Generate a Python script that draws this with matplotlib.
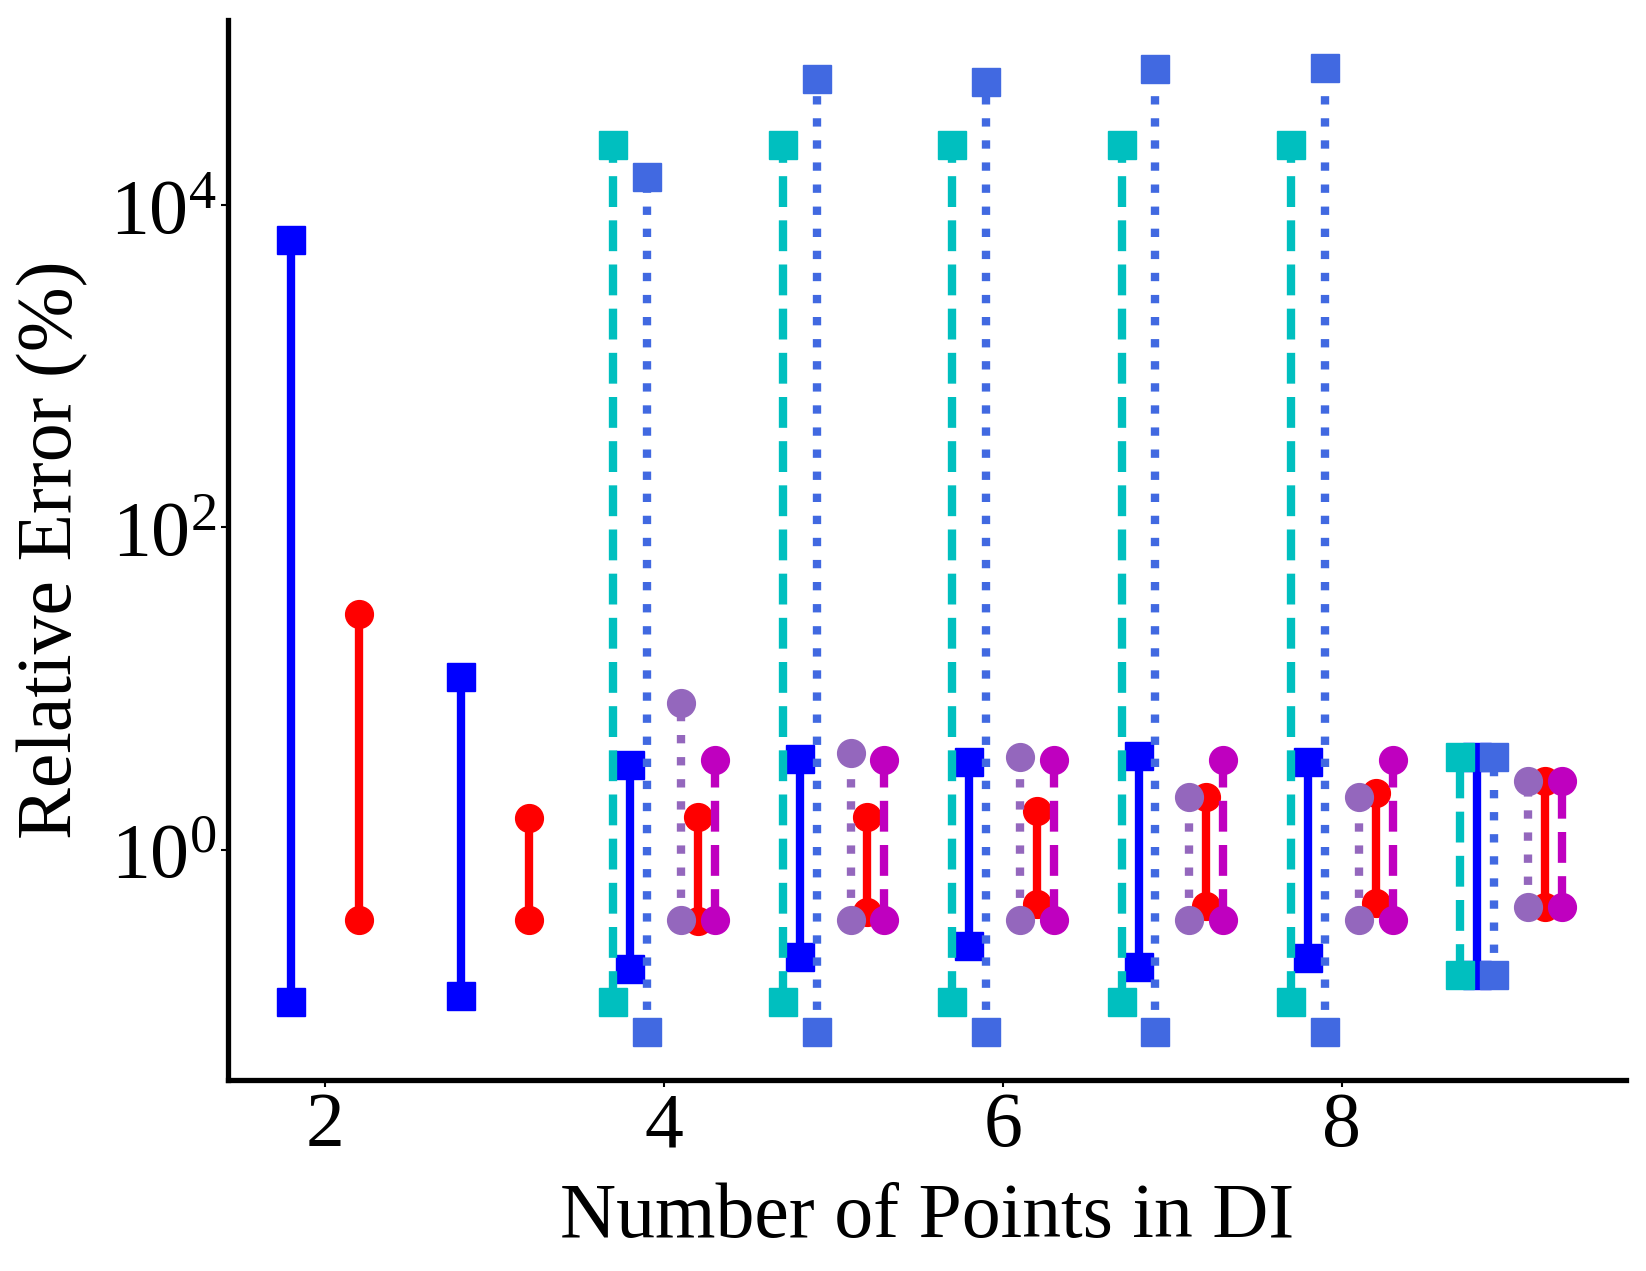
import matplotlib
matplotlib.use("Agg")
import matplotlib.pyplot as plt
from matplotlib.ticker import LogLocator, NullLocator

plt.rcParams['font.family'] = 'serif'
plt.rcParams['font.serif'] = ['Liberation Serif', 'DejaVu Serif']
plt.rcParams['mathtext.fontset'] = 'stix'

# number of points in the DI
n_all = [2, 3, 4, 5, 6, 7, 8, 9]
n_big = [4, 5, 6, 7, 8, 9]

# relative error ranges (%), min / max per method
blue_lo = [0.113, 0.123, 0.181, 0.214, 0.253, 0.187, 0.212, 0.166]
blue_hi = [6050, 11.8, 3.36, 3.66, 3.50, 3.82, 3.49, 3.75]
red_lo = [0.368, 0.368, 0.362, 0.409, 0.461, 0.449, 0.468, 0.438]
red_hi = [29.1, 1.56, 1.59, 1.60, 1.73, 2.12, 2.26, 2.68]

cyan_lo = [0.113, 0.113, 0.113, 0.113, 0.113, 0.166]
cyan_hi = [23500, 23500, 23500, 23500, 23500, 3.75]
royal_lo = [0.074, 0.074, 0.074, 0.074, 0.074, 0.166]
royal_hi = [14900, 60500, 58000, 69700, 70800, 3.75]
purple_lo = [0.367, 0.367, 0.367, 0.367, 0.367, 0.438]
purple_hi = [8.16, 3.95, 3.77, 2.12, 2.13, 2.68]
mag_lo = [0.367, 0.367, 0.367, 0.367, 0.367, 0.438]
mag_hi = [3.61, 3.61, 3.61, 3.61, 3.61, 2.68]

# (n values, lows, highs, x offset, color, linestyle, marker), in drawing order
series = [
    (n_all, blue_lo, blue_hi, -0.2, 'b', '-', 's'),
    (n_all, red_lo, red_hi, 0.2, 'r', '-', 'o'),
    (n_big, cyan_lo, cyan_hi, -0.3, 'c', '--', 's'),
    (n_big, royal_lo, royal_hi, -0.1, 'royalblue', ':', 's'),
    (n_big, purple_lo, purple_hi, 0.1, 'tab:purple', ':', 'o'),
    (n_big, mag_lo, mag_hi, 0.3, 'm', '--', 'o'),
]

fig = plt.figure(figsize=(16.46, 12.71), dpi=100)
ax = fig.add_subplot(111)
fig.subplots_adjust(left=0.1385, right=0.9876, bottom=0.1503, top=0.9843)

for ns, lo, hi, off, color, ls, marker in series:
    for n, a, b in zip(ns, lo, hi):
        ax.plot([n + off, n + off], [a, b], color=color, linestyle=ls,
                marker=marker, markersize=20, linewidth=6)

ax.set_yscale('log')
ax.yaxis.set_major_locator(LogLocator(base=100))
ax.yaxis.set_minor_locator(NullLocator())
ax.set_xticks([2, 4, 6, 8])

ax.set_xlabel('Number of Points in DI', fontsize=56, labelpad=14)
ax.set_ylabel('Relative Error (%)', fontsize=56, labelpad=15)
ax.tick_params(axis='both', labelsize=56, length=5, width=1.5, direction='out')

for side in ['top', 'right']:
    ax.spines[side].set_visible(False)
for side in ['left', 'bottom']:
    ax.spines[side].set_linewidth(3.8)

fig.savefig('out.png', dpi=100)
